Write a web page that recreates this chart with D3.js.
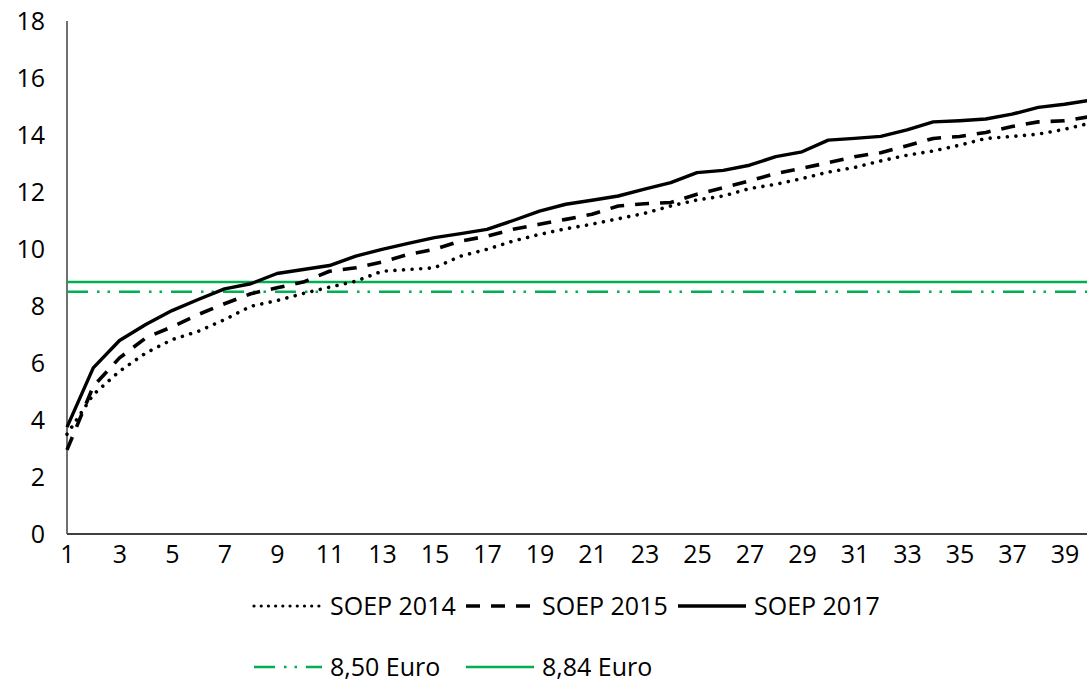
<!DOCTYPE html>
<html>
<head>
<meta charset="utf-8">
<script src="https://cdn.jsdelivr.net/npm/d3@7"></script>
<style>
  html, body { margin: 0; padding: 0; background: #ffffff; }
  svg { display: block; }
  text { font-family: "Open Sans", "Noto Sans", sans-serif; fill: #000; }
</style>
</head>
<body>
<div id="chart"></div>
<script>
// Positions 1..40 along the x axis
const positions = d3.range(1, 41);
const xTickLabels = d3.range(1, 40, 2);
const yTicks = [0, 2, 4, 6, 8, 10, 12, 14, 16, 18];

// Hourly wage series (Euro)
const soep2014 = [3.50, 4.89, 5.71, 6.35, 6.82, 7.11, 7.52, 7.99, 8.19, 8.44,
                  8.66, 8.87, 9.22, 9.28, 9.34, 9.75, 9.99, 10.28, 10.51, 10.71,
                  10.87, 11.06, 11.25, 11.51, 11.72, 11.86, 12.12, 12.27, 12.47, 12.70,
                  12.86, 13.09, 13.29, 13.44, 13.64, 13.88, 13.95, 14.03, 14.20, 14.42];
const soep2015 = [2.95, 5.18, 6.18, 6.88, 7.27, 7.70, 8.08, 8.43, 8.64, 8.84,
                  9.22, 9.34, 9.54, 9.81, 9.99, 10.28, 10.45, 10.69, 10.87, 11.04,
                  11.22, 11.51, 11.59, 11.63, 11.92, 12.15, 12.39, 12.65, 12.83, 13.03,
                  13.24, 13.38, 13.62, 13.88, 13.95, 14.09, 14.30, 14.46, 14.50, 14.65];
const soep2017 = [3.75, 5.83, 6.79, 7.35, 7.84, 8.23, 8.60, 8.78, 9.14, 9.28,
                  9.42, 9.75, 9.99, 10.20, 10.40, 10.54, 10.69, 11.00, 11.33, 11.57,
                  11.71, 11.86, 12.10, 12.33, 12.68, 12.76, 12.94, 13.24, 13.41, 13.82,
                  13.88, 13.95, 14.18, 14.46, 14.50, 14.56, 14.73, 14.97, 15.08, 15.22];

// Minimum wage reference levels
const minWageLabels = ["8,50 Euro", "8,84 Euro"];
const minWageValues = [8.50, 8.84];

const seriesNames = ["SOEP 2014", "SOEP 2015", "SOEP 2017"];

const W = 1087, H = 697;
const GREEN = "#00b050";

const svg = d3.select("#chart").append("svg")
  .attr("width", W).attr("height", H);

const x = d3.scalePoint().domain(positions).range([67, 1090.75]);
const y = d3.scaleLinear().domain([0, 18]).range([534, 21]);

// Y axis labels
const yAxis = svg.append("g").attr("transform", "translate(67,0)")
  .call(d3.axisLeft(y).tickValues(yTicks).tickSize(0).tickPadding(22));
yAxis.select(".domain").remove();
yAxis.selectAll("text").style("font-size", "25px").attr("font-family", null);

// X axis labels
const xAxis = svg.append("g").attr("transform", "translate(0,534)")
  .call(d3.axisBottom(x).tickValues(xTickLabels).tickSize(0).tickPadding(11));
xAxis.select(".domain").remove();
xAxis.selectAll("text").style("font-size", "25px").attr("font-family", null);

// Axis lines
svg.append("line").attr("x1", 67).attr("x2", 67)
  .attr("y1", y(18)).attr("y2", y(0))
  .attr("stroke", "#404040").attr("stroke-width", 1.5);
svg.append("line").attr("x1", 67).attr("x2", W)
  .attr("y1", y(0)).attr("y2", y(0))
  .attr("stroke", "#404040").attr("stroke-width", 2);

// Minimum wage lines
const refStyles = [
  { dash: "21,9,2.5,8,2.5,9", width: 2.5 },
  { dash: null, width: 2.5 }
];
minWageValues.forEach((v, i) => {
  svg.append("line")
    .attr("x1", 67).attr("x2", W)
    .attr("y1", y(v)).attr("y2", y(v))
    .attr("stroke", GREEN).attr("stroke-width", refStyles[i].width)
    .attr("stroke-dasharray", refStyles[i].dash);
});

// Wage distribution lines
const line = d3.line().x((d, i) => x(positions[i])).y(d => y(d));
const seriesStyles = [
  { data: soep2014, dash: "0.01,8.6", cap: "round", width: 3.6 },
  { data: soep2015, dash: "14,11", cap: "butt", width: 3.6 },
  { data: soep2017, dash: null, cap: "butt", width: 3.4 }
];
seriesStyles.forEach(s => {
  svg.append("path").datum(s.data)
    .attr("d", line)
    .attr("fill", "none")
    .attr("stroke", "#000")
    .attr("stroke-width", s.width)
    .attr("stroke-linecap", s.cap)
    .attr("stroke-linejoin", "round")
    .attr("stroke-dasharray", s.dash);
});

// Legend
const legendRows = [
  { cy: 606, items: [
    { x: 254, label: seriesNames[0], stroke: "#000", dash: "0.01,7.2", cap: "round", width: 3.2 },
    { x: 466, label: seriesNames[1], stroke: "#000", dash: "14,11", cap: "butt", width: 3.6 },
    { x: 678, label: seriesNames[2], stroke: "#000", dash: null, cap: "butt", width: 3.6 }
  ]},
  { cy: 667, items: [
    { x: 254, label: minWageLabels[0], stroke: GREEN, dash: "21,9,2.5,8,2.5,9", cap: "butt", width: 2.5 },
    { x: 466, label: minWageLabels[1], stroke: GREEN, dash: null, cap: "butt", width: 2.5 }
  ]}
];
legendRows.forEach(row => {
  row.items.forEach(it => {
    svg.append("line")
      .attr("x1", it.x).attr("x2", it.x + 68)
      .attr("y1", row.cy).attr("y2", row.cy)
      .attr("stroke", it.stroke).attr("stroke-width", it.width)
      .attr("stroke-linecap", it.cap)
      .attr("stroke-dasharray", it.dash);
    svg.append("text")
      .attr("x", it.x + 76).attr("y", row.cy)
      .attr("dy", "0.35em")
      .style("font-size", "25px")
      .text(it.label);
  });
});
</script>
</body>
</html>
